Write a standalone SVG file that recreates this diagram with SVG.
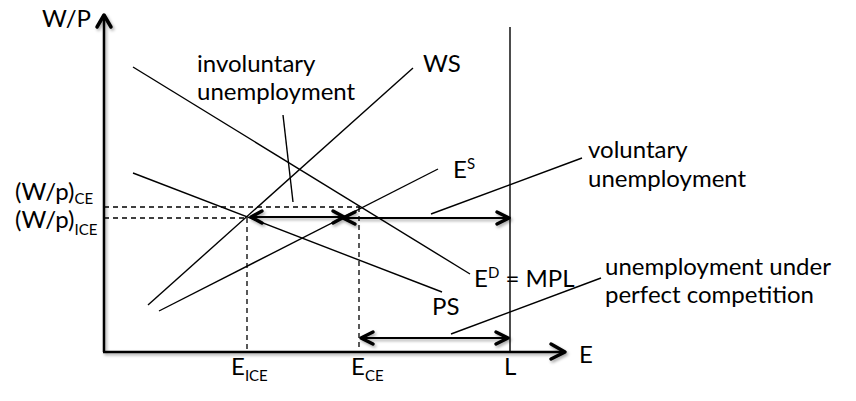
<svg xmlns="http://www.w3.org/2000/svg" width="856" height="401" viewBox="0 0 856 401">
<defs>
<filter id="sh" x="-20%" y="-20%" width="140%" height="140%">
<feDropShadow dx="1.5" dy="2" stdDeviation="1.5" flood-color="#000" flood-opacity="0.35"/>
</filter>
</defs>
<style>
text{font-family:Lato,"Open Sans","Liberation Sans",sans-serif;fill:#000;font-size:24px}
.sub{font-size:15px}
.ln{stroke:#000;stroke-width:1.4;fill:none}
.ax{stroke:#000;stroke-width:2.5;fill:none}
.dash{stroke:#000;stroke-width:1.3;stroke-dasharray:5,4;fill:none}
.arr{stroke:#000;stroke-width:2;fill:none}
.head{stroke:#000;stroke-width:3.5;fill:none;stroke-linecap:round;stroke-linejoin:round}
</style>
<rect width="856" height="401" fill="#fff"/>
<g id="axes" filter="url(#sh)">
<line class="ax" x1="104" y1="352" x2="104" y2="16"/>
<polyline class="head" points="97,27 104,15 111,27"/>
<line class="ax" x1="103" y1="352" x2="564" y2="352"/>
<polyline class="head" points="551,344 565,352 551,359"/>
</g>
<g id="L-line"><line class="ln" x1="510" y1="27" x2="510" y2="352" stroke-width="1.6"/></g>
<g id="guides">
<line class="dash" x1="104" y1="207" x2="360" y2="207"/>
<line class="dash" x1="104" y1="218" x2="247" y2="218"/>
<line class="dash" x1="247" y1="218" x2="247" y2="352"/>
<line class="dash" x1="359" y1="207" x2="359" y2="352"/>
</g>
<g id="curves">
<line id="ED" class="ln" x1="133" y1="67" x2="470" y2="274"/>
<line id="PS" class="ln" x1="133" y1="173" x2="442" y2="292"/>
<line id="WS" class="ln" x1="148" y1="305" x2="413" y2="68"/>
<line id="ES" class="ln" x1="159" y1="311" x2="438" y2="169"/>
</g>
<g id="connectors">
<line class="ln" x1="283" y1="115" x2="293" y2="202"/>
<line class="ln" x1="431" y1="214" x2="582" y2="158"/>
<line class="ln" x1="451" y1="334" x2="601" y2="278"/>
</g>
<g id="arrows" filter="url(#sh)">
<line class="arr" x1="251" y1="217" x2="344" y2="217"/>
<polyline class="head" points="262,211 251,217 262,223"/>
<polyline class="head" points="333,211 344,217 333,223"/>
<line class="arr" x1="343" y1="218" x2="509" y2="218"/>
<polyline class="head" points="355,212 343,218 355,224"/>
<polyline class="head" points="497,212 509,218 497,224"/>
<line class="arr" x1="361" y1="338" x2="508" y2="338"/>
<polyline class="head" points="373,332 361,338 373,344"/>
<polyline class="head" points="496,332 508,338 496,344"/>
</g>
<g id="labels">
<text x="42" y="27">W/P</text>
<text x="15" y="200">(W/p)<tspan class="sub" dy="4">CE</tspan></text>
<text x="15" y="228">(W/p)<tspan class="sub" dy="7">ICE</tspan></text>
<text x="197" y="72">involuntary</text>
<text x="197" y="100">unemployment</text>
<text x="423" y="72">WS</text>
<text x="453" y="178">E<tspan class="sub" dy="-9">S</tspan></text>
<text x="588" y="158">voluntary</text>
<text x="588" y="187">unemployment</text>
<text x="474" y="287">E<tspan class="sub" dy="-9">D</tspan><tspan dy="9"> = MPL</tspan></text>
<text x="432" y="315">PS</text>
<text x="605" y="275">unemployment under</text>
<text x="605" y="303">perfect competition</text>
<text x="231" y="375">E<tspan class="sub" dy="6">ICE</tspan></text>
<text x="351" y="375">E<tspan class="sub" dy="6">CE</tspan></text>
<text x="504" y="375">L</text>
<text x="579" y="363">E</text>
</g>
</svg>
